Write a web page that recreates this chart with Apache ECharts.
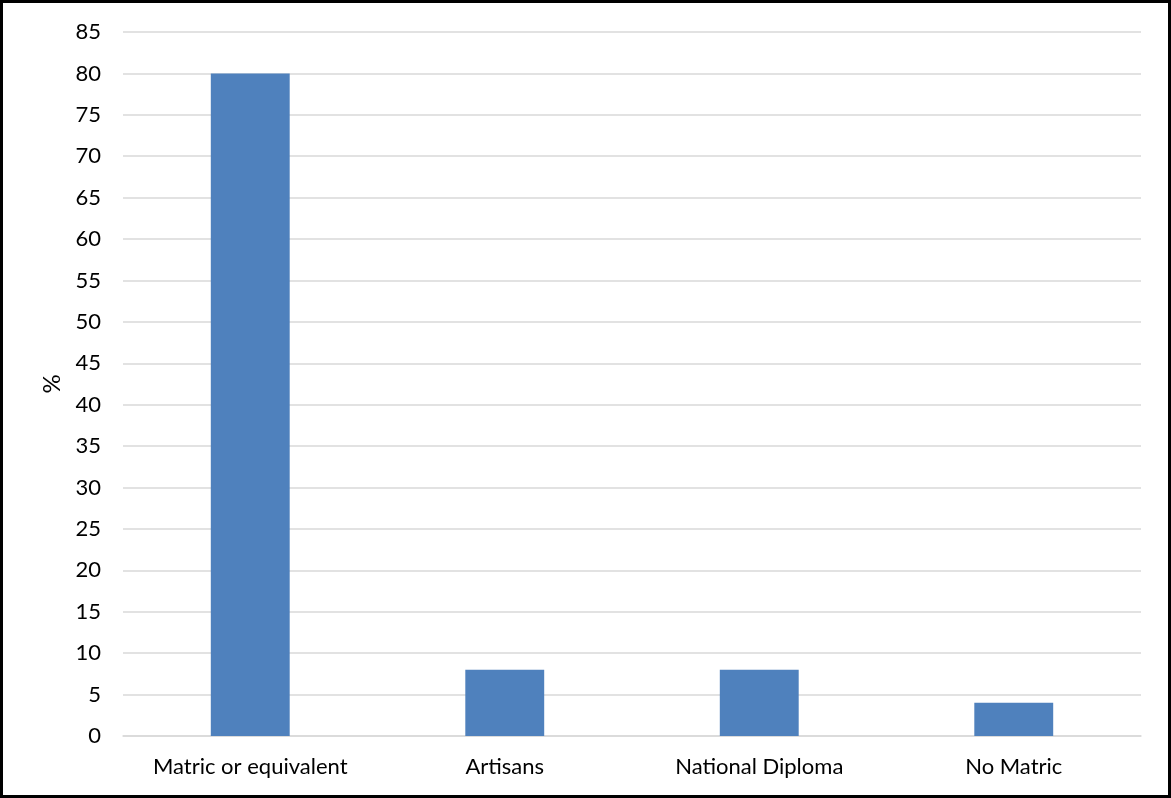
<!DOCTYPE html>
<html>
<head>
<meta charset="utf-8">
<script src="https://cdn.jsdelivr.net/npm/echarts@6/dist/echarts.min.js"></script>
<style>
  html, body { margin: 0; padding: 0; background: #fff; }
  #chart { width: 1171px; height: 798px; }
</style>
</head>
<body>
<div id="chart"></div>
<script>
// Share of respondents by highest qualification
const categories = ['Matric or equivalent', 'Artisans', 'National Diploma', 'No Matric'];
const percentages = [80, 8, 8, 4];

const FONT = 'Lato, "Open Sans", "Liberation Sans", sans-serif';

const chart = echarts.init(document.getElementById('chart'), null, { renderer: 'canvas' });
chart.setOption({
  animation: false,
  backgroundColor: '#ffffff',
  graphic: [{
    type: 'rect',
    shape: { x: 1.5, y: 1.5, width: 1168, height: 795 },
    style: { fill: 'none', stroke: '#000000', lineWidth: 3 },
    silent: true
  }],
  grid: { left: 123, right: 30, top: 32, bottom: 62, containLabel: false },
  xAxis: {
    type: 'category',
    data: categories,
    axisLine: { show: true, lineStyle: { color: '#d9d9d9', width: 1.5 } },
    axisTick: { show: false },
    axisLabel: { color: '#000000', fontSize: 22, fontFamily: FONT, margin: 20 }
  },
  yAxis: {
    type: 'value',
    min: 0,
    max: 85,
    interval: 5,
    name: '%',
    nameLocation: 'middle',
    nameGap: 58,
    nameRotate: 90,
    nameTextStyle: { color: '#000000', fontSize: 24, fontFamily: FONT },
    axisLine: { show: false },
    axisTick: { show: false },
    axisLabel: { color: '#000000', fontSize: 22, fontFamily: FONT, margin: 22 },
    splitLine: { lineStyle: { color: '#d9d9d9', width: 1.5 } }
  },
  series: [{
    type: 'bar',
    data: percentages,
    barWidth: '31%',
    itemStyle: { color: '#4f81bd' }
  }]
});
</script>
</body>
</html>
